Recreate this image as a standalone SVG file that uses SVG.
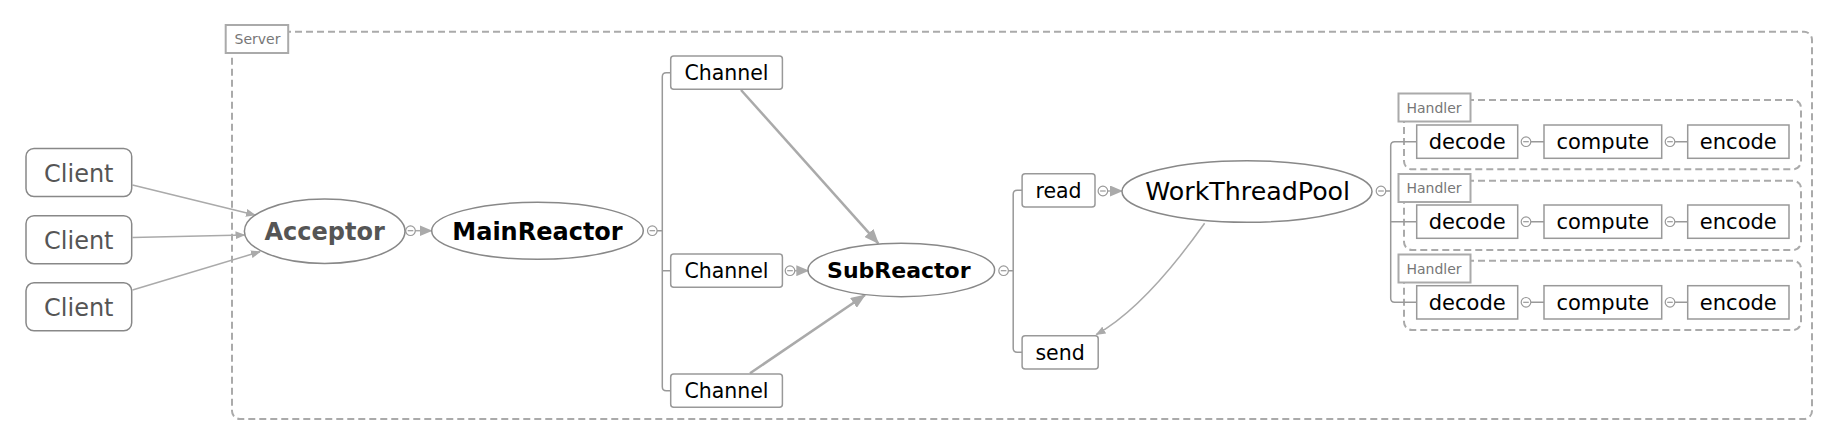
<svg xmlns="http://www.w3.org/2000/svg" width="1835" height="444" viewBox="0 0 1835 444">
<style>
text{font-family:"DejaVu Sans","Liberation Sans",sans-serif;}
.frame{fill:none;stroke:#aaa;stroke-width:2;stroke-dasharray:7 4;}
.lbl{fill:#fff;stroke:#aaa;stroke-width:2;}
.lblt{font-size:14px;fill:#777;}
.box{fill:#fff;stroke:#999;stroke-width:1.5;}
.cbox{fill:#fff;stroke:#888;stroke-width:1.5;}
.ell{fill:#fff;stroke:#888;stroke-width:1.5;}
.t{font-size:21px;fill:#000;text-anchor:middle;}
.t2{font-size:20.5px;fill:#000;text-anchor:middle;}
.tw{font-size:25.3px;fill:#000;text-anchor:middle;}
.tc{font-size:24px;fill:#555;text-anchor:middle;}
.tb{font-weight:bold;text-anchor:middle;}
.ln{fill:none;stroke:#999;stroke-width:1.5;}
.ar{fill:none;stroke:#aaa;stroke-width:1.5;}
.arw{fill:none;stroke:#aaa;stroke-width:2.5;}
.knob{fill:#fff;stroke:#999;stroke-width:1.2;}
.minus{stroke:#999;stroke-width:1.2;}
</style>
<defs>
<marker id="ah" markerUnits="userSpaceOnUse" markerWidth="13" markerHeight="11" refX="12" refY="5.5" orient="auto"><path d="M0,0 L13,5.5 L0,11 Z" fill="#aaa"/></marker>
<marker id="ahb" markerUnits="userSpaceOnUse" markerWidth="15" markerHeight="12" refX="14" refY="6" orient="auto"><path d="M0,0 L15,6 L0,12 Z" fill="#aaa"/></marker>
<marker id="ahs" markerUnits="userSpaceOnUse" markerWidth="10" markerHeight="8" refX="9" refY="4" orient="auto"><path d="M0,0 L10,4 L0,8 Z" fill="#aaa"/></marker>
<g id="knob"><circle r="4.8" class="knob"/><line x1="-2.8" y1="0" x2="2.8" y2="0" class="minus"/></g>
</defs>

<g id="server">
<rect class="frame" x="232" y="31.7" width="1580" height="387.3" rx="8"/>
<rect class="lbl" x="225.7" y="25" width="62.5" height="28"/>
<text class="lblt" x="234.5" y="44">Server</text>
</g>

<g id="handler1">
<rect class="frame" x="1404" y="100" width="397" height="69.3" rx="8"/>
<rect class="lbl" x="1398.5" y="93.5" width="72" height="28"/>
<text class="lblt" x="1406.5" y="112.5">Handler</text>
</g>
<g id="handler2">
<rect class="frame" x="1404" y="180.7" width="397" height="69.3" rx="8"/>
<rect class="lbl" x="1398.5" y="174" width="72" height="28"/>
<text class="lblt" x="1406.5" y="193">Handler</text>
</g>
<g id="handler3">
<rect class="frame" x="1404" y="260.7" width="397" height="69.3" rx="8"/>
<rect class="lbl" x="1398.5" y="254.5" width="72" height="28"/>
<text class="lblt" x="1406.5" y="273.5">Handler</text>
</g>

<g id="connectors">
<line class="ar" x1="132.5" y1="185" x2="255" y2="215" marker-end="url(#ahs)"/>
<line class="ar" x1="132.5" y1="237.5" x2="244.5" y2="235" marker-end="url(#ahs)"/>
<line class="ar" x1="132.5" y1="290" x2="260" y2="251.7" marker-end="url(#ahs)"/>
<line class="ar" x1="415" y1="230.7" x2="431.5" y2="230.7" stroke-width="2" marker-end="url(#ah)"/>
<use href="#knob" x="410.5" y="230.7"/>
<path class="ln" d="M657,230.7 H662.3 M670.7,72.7 H666.3 Q662.3,72.7 662.3,76.7 V386.7 Q662.3,390.7 666.3,390.7 H670.7 M662.3,270.7 H670.7"/>
<use href="#knob" x="652.3" y="230.7"/>
<line class="arw" x1="741" y1="90" x2="878.3" y2="243.3" marker-end="url(#ahb)"/>
<line class="arw" x1="750" y1="373.3" x2="865" y2="295" marker-end="url(#ahb)"/>
<line class="ar" x1="794.5" y1="270.7" x2="808.3" y2="270.7" stroke-width="2" marker-end="url(#ah)"/>
<use href="#knob" x="790" y="270.7"/>
<path class="ln" d="M1008.3,270.7 H1013.2 M1022.1,190.3 H1017.2 Q1013.2,190.3 1013.2,194.3 V348.3 Q1013.2,352.3 1017.2,352.3 H1022.1"/>
<use href="#knob" x="1003.6" y="270.7"/>
<line class="ar" x1="1107.4" y1="191" x2="1122" y2="191" stroke-width="2" marker-end="url(#ah)"/>
<use href="#knob" x="1102.9" y="191"/>
<path class="ar" d="M1204.6,223.3 C1180,258 1140,310 1096.4,334.5" marker-end="url(#ahs)"/>
<path class="ln" d="M1385.7,191 H1390.7 M1416.7,141.7 H1394.7 Q1390.7,141.7 1390.7,145.7 V298.3 Q1390.7,302.3 1394.7,302.3 H1416.7 M1390.7,221.7 H1416.7"/>
<use href="#knob" x="1381" y="191"/>
<path class="ln" d="M1530.8,141.7 H1544 M1674.8,141.7 H1687.7 M1530.8,221.7 H1544 M1674.8,221.7 H1687.7 M1530.8,302.3 H1544 M1674.8,302.3 H1687.7"/>
<use href="#knob" x="1526" y="141.7"/>
<use href="#knob" x="1670" y="141.7"/>
<use href="#knob" x="1526" y="221.7"/>
<use href="#knob" x="1670" y="221.7"/>
<use href="#knob" x="1526" y="302.3"/>
<use href="#knob" x="1670" y="302.3"/>
</g>

<g id="client1"><rect class="cbox" x="26" y="148.5" width="105.7" height="48" rx="8"/><text class="tc" x="78.8" y="181.5">Client</text></g>
<g id="client2"><rect class="cbox" x="26" y="215.7" width="105.7" height="48" rx="8"/><text class="tc" x="78.8" y="248.5">Client</text></g>
<g id="client3"><rect class="cbox" x="26" y="282.8" width="105.7" height="48" rx="8"/><text class="tc" x="78.8" y="315.5">Client</text></g>

<g id="acceptor"><ellipse class="ell" cx="324.7" cy="231.2" rx="80.3" ry="32.2"/><text class="tb" x="324.7" y="240" font-size="24" fill="#555">Acceptor</text></g>
<g id="mainreactor"><ellipse class="ell" cx="537.5" cy="230.8" rx="105.8" ry="28.5"/><text class="tb" x="537.5" y="240" font-size="24" fill="#000">MainReactor</text></g>

<g id="channel1"><rect class="box" x="670.7" y="56" width="111.7" height="33.3" rx="3"/><text class="t2" x="726.5" y="80">Channel</text></g>
<g id="channel2"><rect class="box" x="670.7" y="254" width="111.7" height="33.3" rx="3"/><text class="t2" x="726.5" y="278">Channel</text></g>
<g id="channel3"><rect class="box" x="670.7" y="374" width="111.7" height="33.3" rx="3"/><text class="t2" x="726.5" y="398">Channel</text></g>

<g id="subreactor"><ellipse class="ell" cx="901.3" cy="270" rx="93.3" ry="26.7"/><text class="tb" x="898.8" y="278.3" font-size="22" fill="#000">SubReactor</text></g>

<g id="read"><rect class="box" x="1022.1" y="173.7" width="72.9" height="33.3" rx="3"/><text class="t2" x="1058.5" y="198.3">read</text></g>
<g id="send"><rect class="box" x="1022.1" y="335.7" width="76.1" height="33.3" rx="3"/><text class="t2" x="1060.1" y="360">send</text></g>

<g id="workthreadpool"><ellipse class="ell" cx="1247" cy="191.5" rx="125" ry="30.8"/><text class="tw" x="1247.7" y="200.3">WorkThreadPool</text></g>

<g id="decode1"><rect class="box" x="1416.7" y="125" width="101" height="33.3"/><text class="t" x="1467.2" y="149.3">decode</text></g>
<g id="compute1"><rect class="box" x="1544" y="125" width="117.7" height="33.3"/><text class="t" x="1602.8" y="149.3">compute</text></g>
<g id="encode1"><rect class="box" x="1687.7" y="125" width="101.3" height="33.3"/><text class="t" x="1738.3" y="149.3">encode</text></g>
<g id="decode2"><rect class="box" x="1416.7" y="205" width="101" height="33.3"/><text class="t" x="1467.2" y="229.3">decode</text></g>
<g id="compute2"><rect class="box" x="1544" y="205" width="117.7" height="33.3"/><text class="t" x="1602.8" y="229.3">compute</text></g>
<g id="encode2"><rect class="box" x="1687.7" y="205" width="101.3" height="33.3"/><text class="t" x="1738.3" y="229.3">encode</text></g>
<g id="decode3"><rect class="box" x="1416.7" y="285.7" width="101" height="33.3"/><text class="t" x="1467.2" y="310">decode</text></g>
<g id="compute3"><rect class="box" x="1544" y="285.7" width="117.7" height="33.3"/><text class="t" x="1602.8" y="310">compute</text></g>
<g id="encode3"><rect class="box" x="1687.7" y="285.7" width="101.3" height="33.3"/><text class="t" x="1738.3" y="310">encode</text></g>
</svg>
